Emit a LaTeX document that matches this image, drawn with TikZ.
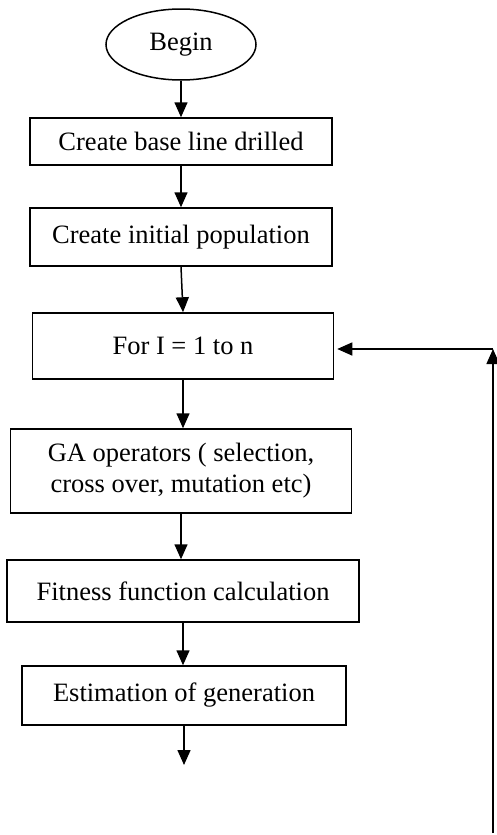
\documentclass[tikz,border=0pt]{standalone}
\usepackage{fontspec}
\setmainfont{Liberation Serif}
\usetikzlibrary{shapes.geometric}
\usetikzlibrary{arrows.meta}

\tikzset{
  stepbox/.style={draw, line width=1.5pt, rectangle, inner sep=0pt, align=center},
  flowarrow/.style={line width=1.5pt, -{Triangle[length=15pt,width=13pt]}}
}

\begin{document}
\begin{tikzpicture}[x=1pt, y=1pt, font=\fontsize{26.5}{31}\selectfont]
\useasboundingbox (0,0) rectangle (496,-835);

% Start of the algorithm
\node[draw, ellipse, line width=1.5pt, minimum width=150pt, minimum height=71pt] (begin) at (181,-44.5) {Begin};

% Set up steps
\node[stepbox, minimum width=302pt, minimum height=47pt] (baseline) at (181,-141.5) {Create base line drilled};
\node[stepbox, minimum width=302pt, minimum height=58pt] (popbox) at (181,-237) {Create initial population};

% Loop over generations
\node[stepbox, minimum width=301pt, minimum height=66pt] (loopbox) at (183,-346) {For I = 1 to n};
\node[stepbox, minimum width=341pt, minimum height=84pt] (gabox) at (181,-471) {GA operators ( selection,\\cross over, mutation etc)};
\node[stepbox, minimum width=352pt, minimum height=62pt] (fitbox) at (183,-591) {Fitness function calculation};
\node[stepbox, minimum width=324pt, minimum height=59pt] (estbox) at (184,-695.5) {Estimation of generation};

% Free ends of the connectors
\coordinate (next) at (184,-765);
\coordinate (loopend) at (493,-833);
\coordinate (loopturn) at (493,-349);

% Main flow
\draw[flowarrow] (begin.south) -- (begin.south |- baseline.north);
\draw[flowarrow] (baseline.south) -- (baseline.south |- popbox.north);
\draw[flowarrow] (popbox.south) -- (loopbox.north);
\draw[flowarrow] (loopbox.south) -- (loopbox.south |- gabox.north);
\draw[flowarrow] (gabox.south) -- (gabox.south |- fitbox.north);
\draw[flowarrow] (fitbox.south) -- (fitbox.south |- estbox.north);
\draw[flowarrow] (estbox.south) -- (next);

% Feedback to the loop
\draw[flowarrow] (loopend) -- (loopturn);
\draw[flowarrow, shorten >=3pt] (loopturn) -- (loopbox.east |- loopturn);

\end{tikzpicture}
\end{document}
